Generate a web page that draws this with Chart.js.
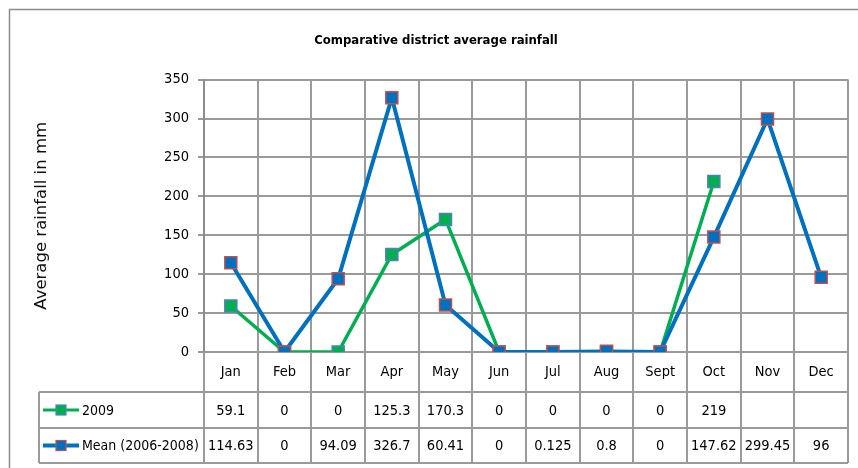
<!DOCTYPE html>
<html>
<head>
<meta charset="utf-8">
<script src="https://cdn.jsdelivr.net/npm/chart.js@4.4.0/dist/chart.umd.min.js"></script>
<style>
  html, body { margin: 0; padding: 0; background: #ffffff; }
  #wrap { width: 858px; height: 468px; }
</style>
</head>
<body>
<div id="wrap"><canvas id="c" width="858" height="468"></canvas></div>
<script>
const categories = ['Jan','Feb','Mar','Apr','May','Jun','Jul','Aug','Sept','Oct','Nov','Dec'];
const series2009 = [59.1, 0, 0, 125.3, 170.3, 0, 0, 0, 0, 219, null, null];
const seriesMean = [114.63, 0, 94.09, 326.7, 60.41, 0, 0.125, 0.8, 0, 147.62, 299.45, 96];
const label2009 = '2009';
const labelMean = 'Mean (2006-2008)';
const yTicks = [0, 50, 100, 150, 200, 250, 300, 350];

const NARROW = '"DejaVu Sans Condensed", "Liberation Sans", sans-serif';
const GRID = '#9a9a9a';
const GREEN = '#00B050';
const BLUE = '#0070C0';

function fmt(v) { return v === null ? '' : String(v); }

const tablePlugin = {
  id: 'dataTable',
  afterDraw(chart) {
    const ctx = chart.ctx;
    const xs = chart.scales.x;
    const ca = chart.chartArea;
    const headerBottom = 392;
    const row1Bottom = 428;
    const row2Bottom = 463;
    const leftCol = 39;
    const n = categories.length;
    const colW = xs.getPixelForValue(1) - xs.getPixelForValue(0);
    ctx.save();
    ctx.strokeStyle = GRID;
    ctx.lineWidth = 2;
    ctx.beginPath();
    for (let i = 0; i <= n; i++) {
      const x = Math.round(xs.getPixelForValue(0) - colW / 2 + i * colW);
      ctx.moveTo(x, ca.bottom);
      ctx.lineTo(x, row2Bottom);
    }
    ctx.moveTo(leftCol, headerBottom);
    ctx.lineTo(leftCol, row2Bottom);
    [headerBottom, row1Bottom, row2Bottom].forEach(y => {
      ctx.moveTo(leftCol, y);
      ctx.lineTo(Math.round(ca.right), y);
    });
    ctx.stroke();

    // outer chart border
    ctx.strokeStyle = '#8c8c8c';
    ctx.lineWidth = 1.5;
    ctx.beginPath();
    ctx.moveTo(9.5, 468);
    ctx.lineTo(9.5, 9.5);
    ctx.lineTo(858, 9.5);
    ctx.stroke();

    // values
    ctx.fillStyle = '#000000';
    ctx.font = '14.5px ' + NARROW;
    ctx.textAlign = 'center';
    ctx.textBaseline = 'middle';
    const rows = [[series2009, (headerBottom + row1Bottom) / 2], [seriesMean, (row1Bottom + row2Bottom) / 2]];
    rows.forEach(([arr, y]) => {
      arr.forEach((v, i) => {
        ctx.fillText(fmt(v), xs.getPixelForValue(i), y + 1);
      });
    });

    // legend keys
    const keys = [
      [label2009, GREEN, GREEN, '#4F81BD', 3, (headerBottom + row1Bottom) / 2],
      [labelMean, BLUE, BLUE, '#C0504D', 4, (row1Bottom + row2Bottom) / 2]
    ];
    ctx.font = '14px ' + NARROW;
    keys.forEach(([txt, lineC, fill, border, lw, y]) => {
      ctx.strokeStyle = lineC;
      ctx.lineWidth = lw;
      ctx.beginPath();
      ctx.moveTo(43, y);
      ctx.lineTo(79, y);
      ctx.stroke();
      ctx.fillStyle = fill;
      ctx.fillRect(56, y - 5, 10, 10);
      ctx.strokeStyle = border;
      ctx.lineWidth = 1.2;
      ctx.strokeRect(56, y - 5, 10, 10);
      ctx.fillStyle = '#000000';
      ctx.textAlign = 'left';
      ctx.fillText(txt, 82, y + 1);
    });
    ctx.restore();
  }
};

new Chart(document.getElementById('c'), {
  type: 'line',
  data: {
    labels: categories,
    datasets: [
      {
        label: labelMean,
        data: seriesMean,
        borderColor: BLUE,
        backgroundColor: BLUE,
        borderWidth: 4,
        pointStyle: 'rect',
        pointRadius: 8.5,
        pointBackgroundColor: BLUE,
        pointBorderColor: '#C0504D',
        pointBorderWidth: 1.5,
        tension: 0,
        order: 0
      },
      {
        label: label2009,
        data: series2009,
        borderColor: GREEN,
        backgroundColor: GREEN,
        borderWidth: 3.5,
        pointStyle: 'rect',
        pointRadius: 8.5,
        pointBackgroundColor: GREEN,
        pointBorderColor: '#4F81BD',
        pointBorderWidth: 1.5,
        tension: 0,
        spanGaps: false,
        order: 1
      }
    ]
  },
  options: {
    responsive: false,
    animation: false,
    devicePixelRatio: 1,
    layout: { padding: { left: 20, right: 6, top: 0, bottom: 76 } },
    plugins: {
      legend: { display: false },
      tooltip: { enabled: false },
      title: {
        display: true,
        text: 'Comparative district average rainfall',
        color: '#000000',
        font: { family: NARROW, size: 13, weight: 'bold' },
        padding: { top: 33, bottom: 31 }
      }
    },
    scales: {
      x: {
        type: 'category',
        offset: true,
        grid: { display: true, offset: true, color: GRID, lineWidth: 2, drawTicks: false },
        border: { display: true, color: GRID, width: 2 },
        ticks: { color: '#000000', font: { family: NARROW, size: 14.5 }, padding: 12, maxRotation: 0, autoSkip: false },
        afterFit(scale) { scale.height = 40; }
      },
      y: {
        min: 0,
        max: 350,
        afterBuildTicks(scale) { scale.ticks = yTicks.map(v => ({ value: v })); },
        grid: { color: GRID, lineWidth: 2, tickLength: 6 },
        border: { display: true, color: '#8c8c8c', width: 2 },
        ticks: { color: '#000000', font: { family: NARROW, size: 14.5 }, padding: 9 },
        title: {
          display: true,
          text: 'Average rainfall in mm',
          color: '#111111',
          font: { family: '"DejaVu Sans", "Open Sans", sans-serif', size: 16.5 },
          padding: { top: 12, bottom: 0 }
        },
        afterFit(scale) { scale.width = 184; }
      }
    }
  },
  plugins: [tablePlugin]
});
</script>
</body>
</html>
